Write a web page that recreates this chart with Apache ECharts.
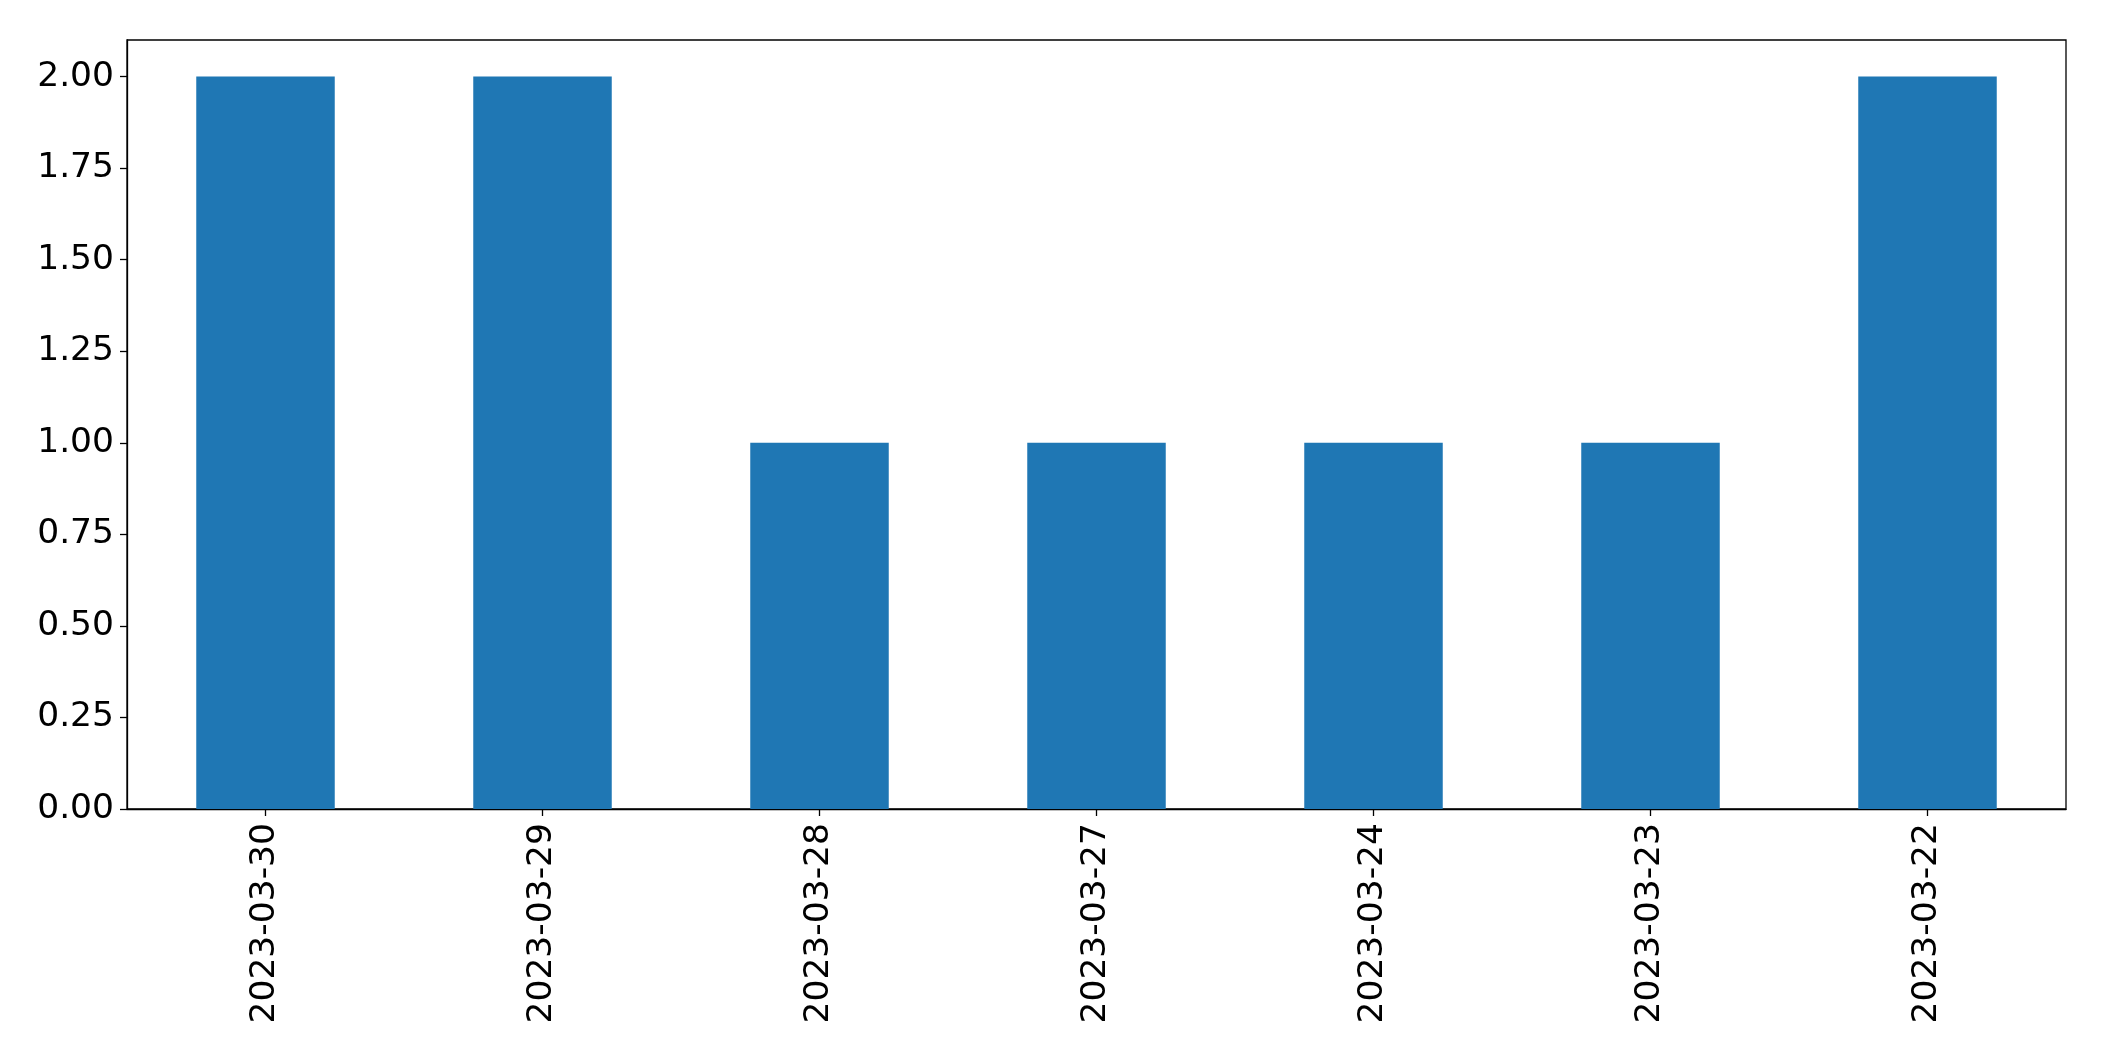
<!DOCTYPE html>
<html><head><meta charset="utf-8">
<script src="https://cdn.jsdelivr.net/npm/echarts@6/dist/echarts.min.js"></script>
<style>html,body{margin:0;padding:0;background:#fff}#c{width:2104px;height:1061px}</style>
</head><body><div id="c"></div>
<script>
const categories = ["2023-03-30","2023-03-29","2023-03-28","2023-03-27","2023-03-24","2023-03-23","2023-03-22"];
const values = [2, 2, 1, 1, 1, 1, 2];
const yTicks = [0, 0.25, 0.5, 0.75, 1.0, 1.25, 1.5, 1.75, 2.0];

const chart = echarts.init(document.getElementById('c'), null, {renderer: 'canvas'});
chart.setOption({
  animation: false,
  backgroundColor: '#fff',
  grid: {left: 127, right: 38, top: 40, bottom: 252, show: true, borderColor: '#000', borderWidth: 1.3, backgroundColor: 'transparent'},
  xAxis: {
    type: 'category', data: categories,
    axisLine: {show: true, lineStyle: {color: '#000', width: 1.3}},
    axisTick: {show: true, alignWithLabel: true, length: 7, lineStyle: {color: '#000', width: 1.3}},
    axisLabel: {rotate: 90, color: '#000', fontFamily: 'DejaVu Sans', fontSize: 34.5, margin: 14},
    splitLine: {show: false}
  },
  yAxis: {
    type: 'value', min: 0, max: 2.1,
    axisLine: {show: true, lineStyle: {color: '#000', width: 1.3}},
    axisTick: {show: true, length: 7, lineStyle: {color: '#000', width: 1.3}, customValues: yTicks},
    axisLabel: {color: '#000', fontFamily: 'DejaVu Sans', fontSize: 34.5, margin: 13, customValues: yTicks,
      formatter: v => v.toFixed(2)},
    splitLine: {show: false}
  },
  series: [{type: 'bar', data: values, barWidth: '50%', itemStyle: {color: '#1f77b4'}}]
});
</script></body></html>
